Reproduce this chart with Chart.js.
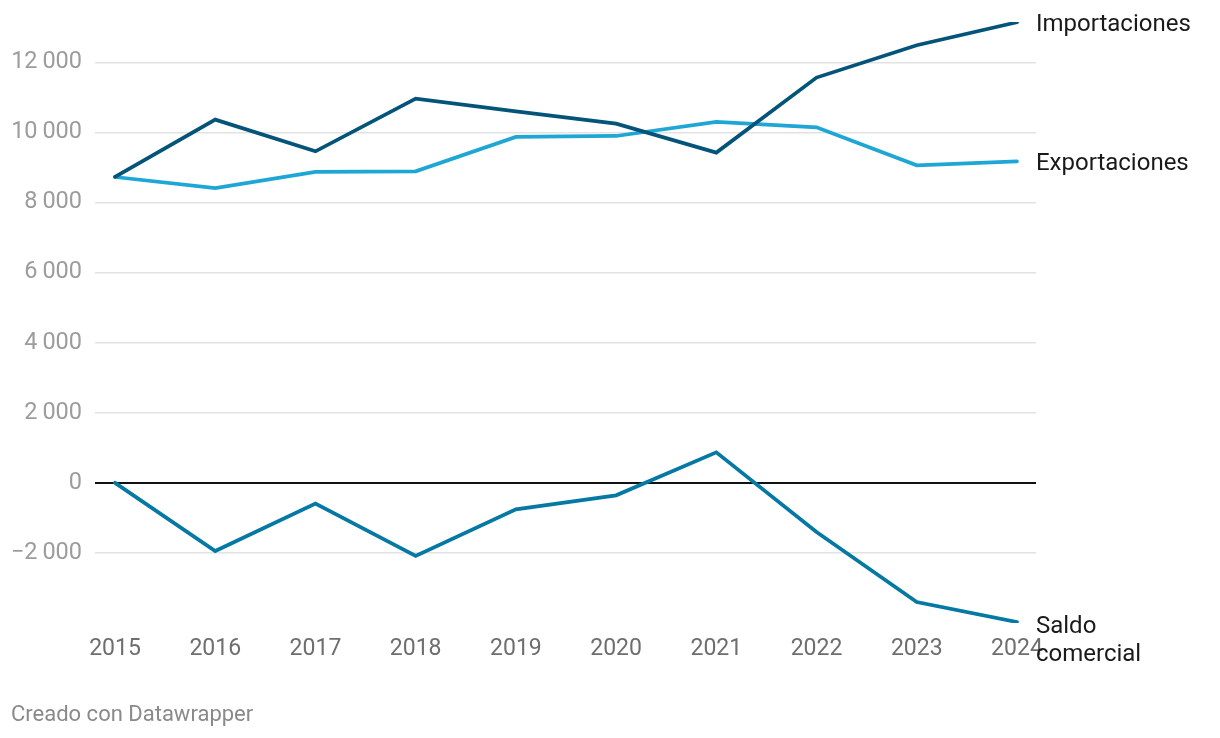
<!DOCTYPE html>
<html>
<head>
<meta charset="utf-8">
<script src="https://cdn.jsdelivr.net/npm/chart.js@4.4.1/dist/chart.umd.min.js"></script>
<style>
  html, body { margin: 0; padding: 0; background: #ffffff; }
  #wrap { position: relative; width: 1220px; height: 738px; }
  #c { position: absolute; left: 0; top: 0; }
  #credit { position: absolute; left: 11px; top: 701px; font-family: Roboto, sans-serif; font-size: 22px; color: #8a8a8a; }
</style>
</head>
<body>
<div id="wrap">
  <canvas id="c" width="1220" height="738"></canvas>
  <div id="credit">Creado con Datawrapper</div>
</div>
<script>
const years = [2015, 2016, 2017, 2018, 2019, 2020, 2021, 2022, 2023, 2024];
const importaciones = [8730, 10365, 9460, 10965, 10600, 10250, 9423, 11564, 12486, 13142];
const exportaciones = [8727, 8413, 8870, 8890, 9869, 9897, 10297, 10146, 9061, 9175];
const saldoComercial = [0, -1946, -594, -2089, -756, -357, 870, -1404, -3402, -3973];
const yTickValues = [-2000, 0, 2000, 4000, 6000, 8000, 10000, 12000];
const yTickLabels = ["\u22122\u2009000", "0", "2\u2009000", "4\u2009000", "6\u2009000", "8\u2009000", "10\u2009000", "12\u2009000"];
const seriesNames = ["Importaciones", "Exportaciones", ["Saldo", "comercial"]];
const seriesColors = ["#04547a", "#1ea6d5", "#0579a3"];

function pts(arr) { return years.map((y, i) => ({ x: y, y: arr[i] })); }

const endLabels = {
  id: 'endLabels',
  afterDatasetsDraw(chart) {
    const ctx = chart.ctx;
    const xs = chart.scales.x, ys = chart.scales.y;
    ctx.save();
    ctx.font = '24px Roboto, sans-serif';
    ctx.fillStyle = '#1a1a1a';
    ctx.textAlign = 'left';
    ctx.textBaseline = 'middle';
    chart.data.datasets.forEach((ds, i) => {
      const last = ds.data[ds.data.length - 1];
      const name = seriesNames[i];
      const lines = Array.isArray(name) ? name : [name];
      const px = xs.getPixelForValue(last.x) + 19;
      const py = ys.getPixelForValue(last.y) + (lines.length > 1 ? 5 : 3);
      lines.forEach((t, k) => ctx.fillText(t, px, py + k * 28));
    });
    ctx.restore();
  }
};

new Chart(document.getElementById('c'), {
  type: 'line',
  data: {
    datasets: [
      { data: pts(importaciones), borderColor: seriesColors[0] },
      { data: pts(exportaciones), borderColor: seriesColors[1] },
      { data: pts(saldoComercial), borderColor: seriesColors[2] }
    ].map(d => Object.assign(d, { borderWidth: 3.75, pointRadius: 0, tension: 0, fill: false, borderCapStyle: 'round', borderJoinStyle: 'miter' }))
  },
  options: {
    responsive: false,
    animation: false,
    layout: { padding: { top: 22, right: 184, bottom: 0, left: 0 } },
    plugins: { legend: { display: false }, tooltip: { enabled: false } },
    scales: {
      x: {
        type: 'linear',
        min: 2014.8,
        max: 2024.19,
        afterBuildTicks: (s) => { s.ticks = years.map(v => ({ value: v })); },
        afterFit: (s) => { s.height = 115; s.paddingLeft = 0; s.paddingRight = 0; },
        grid: { display: false, drawTicks: false },
        border: { display: false },
        ticks: {
          padding: 12,
          color: '#6e6e6e',
          font: { family: 'Roboto', size: 23 },
          maxRotation: 0,
          autoSkip: false,
          callback: (v) => String(v)
        }
      },
      y: {
        min: -4000,
        max: 13150,
        afterBuildTicks: (s) => { s.ticks = yTickValues.map(v => ({ value: v })); },
        afterFit: (s) => { s.width = 95; s.paddingTop = 0; s.paddingBottom = 0; },
        border: { display: false },
        grid: {
          drawTicks: false,
          lineWidth: (c) => c.tick && c.tick.value === 0 ? 2 : 1.5,
          color: (c) => c.tick && c.tick.value === 0 ? '#111111' : '#e2e2e2'
        },
        ticks: {
          padding: 13,
          color: '#9c9c9c',
          font: { family: 'Roboto', size: 23.5 },
          callback: (v) => { const i = yTickValues.indexOf(v); return i >= 0 ? yTickLabels[i] : ''; }
        }
      }
    }
  },
  plugins: [endLabels]
});
</script>
</body>
</html>
